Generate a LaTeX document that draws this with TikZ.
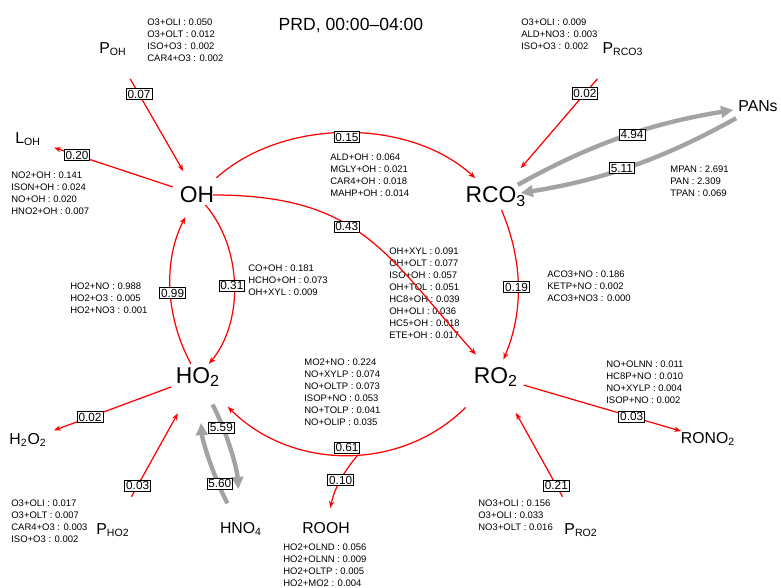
\documentclass[tikz,border=0pt]{standalone}
\usepackage{fontspec}
\setmainfont{Liberation Sans}
\usepackage{tikz}
\usetikzlibrary{arrows.meta}
\definecolor{redline}{HTML}{FF0000}
\definecolor{greyline}{HTML}{A3A3A3}

\begin{document}
\begin{tikzpicture}[x=.02cm,y=.02cm, every node/.style={font=\fontsize{5.4}{6.8}\selectfont},
  spec/.style={font=\fontsize{13}{15}\selectfont, inner sep=1pt},
  minor/.style={font=\fontsize{9}{11}\selectfont, inner sep=1pt},
  rlist/.style={anchor=west, align=left, inner sep=0pt},
  val/.style={draw=black, fill=white, text=black, line width=.45pt, inner sep=.8pt,
              font=\fontsize{6.7}{7}\selectfont},
  flux/.style={draw=redline, line width=.7pt, -{Stealth[length=4pt,width=3pt]}},
  pool/.style={draw=greyline, line width=2.5pt, -{Triangle[length=7pt,width=6.5pt]}},
]
  \useasboundingbox (0,0) rectangle (781,-588);
  \node[font=\fontsize{10}{12}\selectfont] (ttl) at (351,-25) {PRD, 00:00\textendash 04:00};

  % Radicals
  \node[spec] (OH) at (197,-195) {OH};
  \node[spec] (RCO3) at (496,-197) {RCO\textsubscript{3}};
  \node[spec] (RO2) at (496,-377) {RO\textsubscript{2}};
  \node[spec] (HO2) at (198,-377) {HO\textsubscript{2}};

  % Sources, sinks and reservoirs
  \node[minor] (POH) at (113,-49) {P\textsubscript{OH}};
  \node[minor] (LOH) at (28,-139) {L\textsubscript{OH}};
  \node[minor] (PRCO3) at (623,-49) {P\textsubscript{RCO3}};
  \node[minor] (PANs) at (758,-106) {PANs};
  \node[minor] (H2O2) at (28,-440) {H\textsubscript{2}O\textsubscript{2}};
  \node[minor] (PHO2) at (113,-530) {P\textsubscript{HO2}};
  \node[minor] (HNO4) at (241,-529) {HNO\textsubscript{4}};
  \node[minor] (ROOH) at (326,-528) {ROOH};
  \node[minor] (RONO2) at (708,-439) {RONO\textsubscript{2}};
  \node[minor] (PRO2) at (581,-530) {P\textsubscript{RO2}};

  % Leading reactions
  \node[rlist] (lPOH) at (147,-40) {O3+OLI : 0.050\\O3+OLT : 0.012\\ISO+O3 : 0.002\\CAR4+O3 : 0.002};
  \node[rlist] (lPRCO3) at (521,-34) {O3+OLI : 0.009\\ALD+NO3 : 0.003\\ISO+O3 : 0.002};
  \node[rlist] (lLOH) at (11,-193.5) {NO2+OH : 0.141\\ISON+OH : 0.024\\NO+OH : 0.020\\HNO2+OH : 0.007};
  \node[rlist] (lPANs) at (670,-181) {MPAN : 2.691\\PAN : 2.309\\TPAN : 0.069};
  \node[rlist] (lOHRCO3) at (330,-175) {ALD+OH : 0.064\\MGLY+OH : 0.021\\CAR4+OH : 0.018\\MAHP+OH : 0.014};
  \node[rlist] (lOHRO2) at (389,-293) {OH+XYL : 0.091\\OH+OLT : 0.077\\ISO+OH : 0.057\\OH+TOL : 0.051\\HC8+OH : 0.039\\OH+OLI : 0.036\\HC5+OH : 0.018\\ETE+OH : 0.017};
  \node[rlist] (lOHHO2) at (248,-280) {CO+OH : 0.181\\HCHO+OH : 0.073\\OH+XYL : 0.009};
  \node[rlist] (lHO2OH) at (70,-298) {HO2+NO : 0.988\\HO2+O3 : 0.005\\HO2+NO3 : 0.001};
  \node[rlist] (lRCO3RO2) at (547,-286) {ACO3+NO : 0.186\\KETP+NO : 0.002\\ACO3+NO3 : 0.000};
  \node[rlist] (lRO2HO2) at (304,-392) {MO2+NO : 0.224\\NO+XYLP : 0.074\\NO+OLTP : 0.073\\ISOP+NO : 0.053\\NO+TOLP : 0.041\\NO+OLIP : 0.035};
  \node[rlist] (lRONO2) at (606,-382) {NO+OLNN : 0.011\\HC8P+NO : 0.010\\NO+XYLP : 0.004\\ISOP+NO : 0.002};
  \node[rlist] (lPRO2) at (478,-515) {NO3+OLI : 0.156\\O3+OLI : 0.033\\NO3+OLT : 0.016};
  \node[rlist] (lPHO2) at (11,-521) {O3+OLI : 0.017\\O3+OLT : 0.007\\CAR4+O3 : 0.003\\ISO+O3 : 0.002};
  \node[rlist] (lROOH) at (283,-565) {HO2+OLND : 0.056\\HO2+OLNN : 0.009\\HO2+OLTP : 0.005\\HO2+MO2 : 0.004};

  % Production and loss
  \draw[flux, shorten <=.69cm, shorten >=.55cm] (POH.center) -- (OH.center) node[val, pos=.31] {0.07};
  \draw[flux, shorten <=.51cm, shorten >=.55cm] (OH.center) -- (LOH.center) node[val, pos=.71] {0.20};
  \draw[flux, shorten <=.79cm, shorten >=.76cm] (PRCO3.center) -- (RCO3.center) node[val, pos=.30] {0.02};
  \draw[flux, shorten <=.57cm, shorten >=.55cm] (HO2.center) -- (H2O2.center) node[val, pos=.635] {0.02};
  \draw[flux, shorten <=.76cm, shorten >=.83cm] (PHO2.center) -- (HO2.center) node[val, pos=.29] {0.03};
  \draw[flux, shorten <=.58cm, shorten >=.56cm] (RO2.center) -- (RONO2.center) node[val, pos=.64] {0.03};
  \draw[flux, shorten <=.76cm, shorten >=.82cm] (PRO2.center) -- (RO2.center) node[val, pos=.29] {0.21};

  % Radical cycling
  \draw[flux, shorten <=.52cm, shorten >=.56cm] (OH.center) to[bend left=42] node[val] {0.15} (RCO3.center);
  \draw[flux, shorten <=.32cm, shorten >=.6cm] (OH.center) to[out=0, in=132, looseness=1.2] node[val, pos=.42] {0.43} (RO2.center);
  \draw[flux, shorten <=.28cm, shorten >=.38cm] (RCO3.center) to[bend left=23] node[val] {0.19} (RO2.center);
  \draw[flux, shorten <=.26cm, shorten >=.34cm] (OH.center) to[bend left=40] node[val] {0.31} (HO2.center);
  \draw[flux, shorten <=.3cm, shorten >=.5cm] (HO2.center) to[bend left=28] node[val, pos=.46] {0.99} (OH.center);
  \draw[flux, shorten <=.86cm, shorten >=.84cm] (RO2.center) to[bend left=45, looseness=1.15] node[val] (q61) {0.61} (HO2.center);
  \coordinate (split) at (357,-456);
  \draw[flux, shorten >=.25cm] (split) to[out=-130, in=78] node[val, pos=.4] {0.10} (ROOH);

  % Reservoir exchange
  \draw[pool, shorten <=.5cm, shorten >=.5cm] (RCO3.center) to[bend left=10] node[val, pos=.54] {4.94} (PANs.center);
  \draw[pool, shorten <=.5cm, shorten >=.5cm] (PANs.center) to[bend left=10] node[val, pos=.54] {5.11} (RCO3.center);
  \draw[pool, shorten <=.62cm, shorten >=.8cm] (HO2.center) to[bend left=12] node[val, pos=.34] {5.59} (HNO4.center);
  \draw[pool, shorten <=.58cm, shorten >=.92cm] (HNO4.center) to[bend left=12] node[val, pos=.30] {5.60} (HO2.center);
\end{tikzpicture}
\end{document}
